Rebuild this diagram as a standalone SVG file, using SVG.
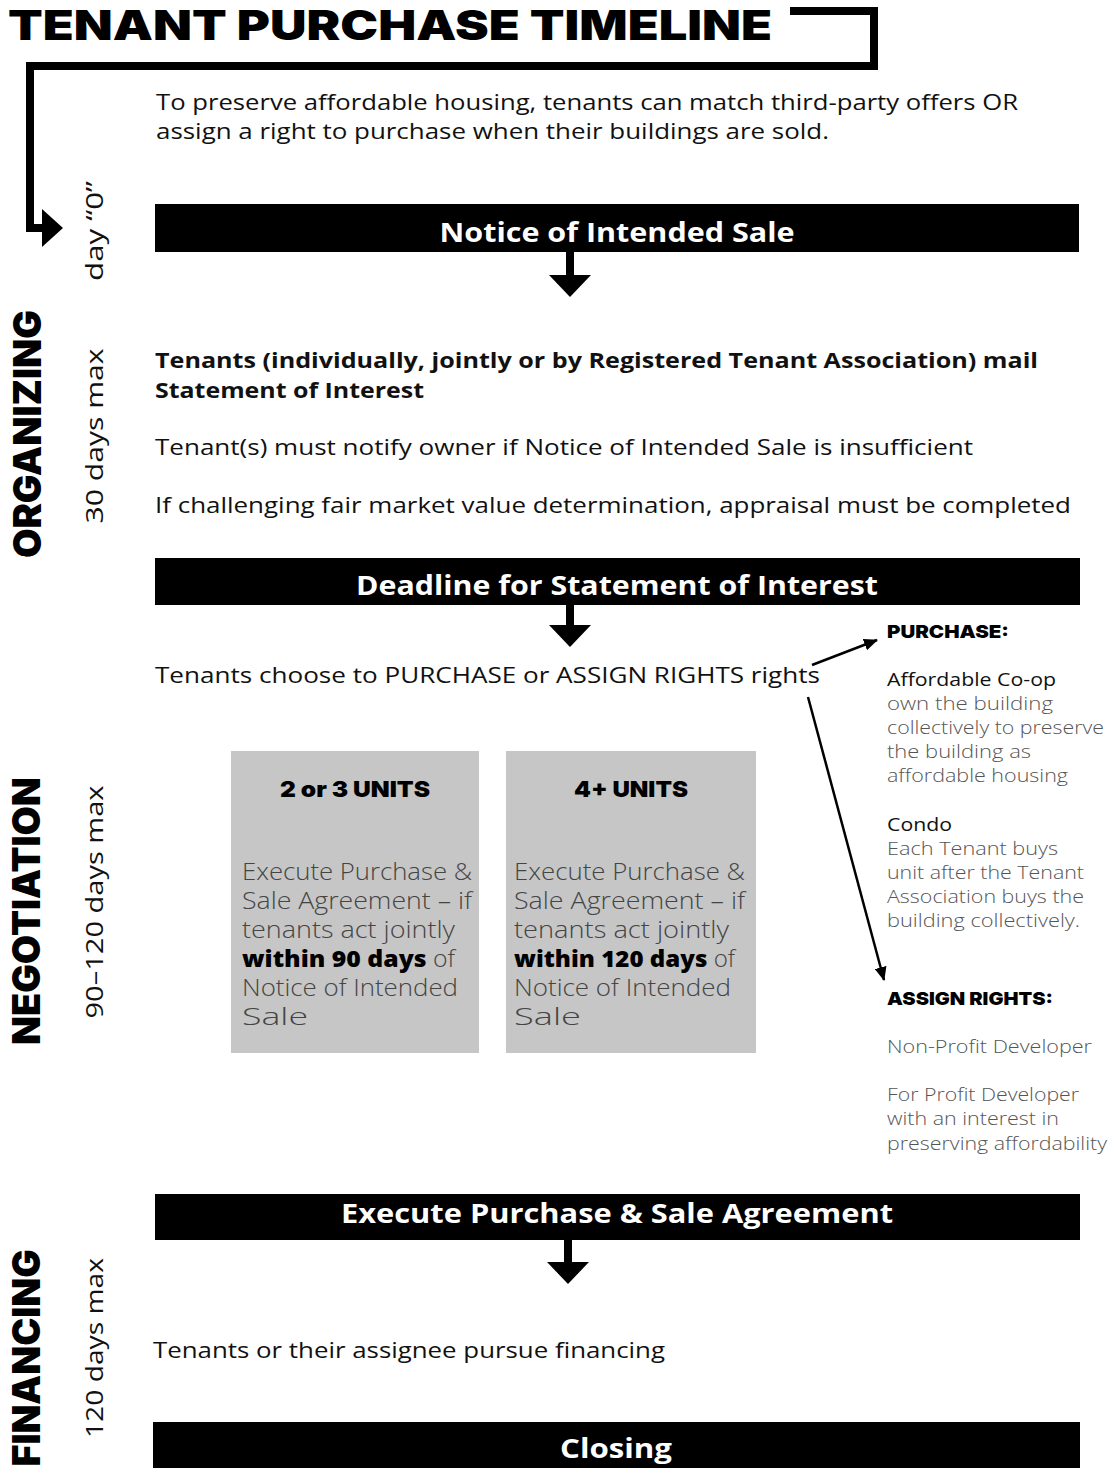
<svg xmlns="http://www.w3.org/2000/svg" width="1110" height="1471" viewBox="0 0 1110 1471">
<style>
.t{font-family:"Open Sans","Liberation Sans",sans-serif;fill:#111}
.h{font-family:Inter,"Liberation Sans",sans-serif;font-weight:900;fill:#000}
.bar{fill:#000}
.bt{font-family:"Open Sans","Liberation Sans",sans-serif;font-weight:700;fill:#fff;font-size:26px;text-anchor:middle}
.g{font-family:"Open Sans","Liberation Sans",sans-serif;font-weight:300;fill:#555;font-size:18px}
.gb{font-family:"Open Sans","Liberation Sans",sans-serif;font-weight:300;fill:#444;font-size:23px}
.box{fill:#c6c6c6}
</style>
<defs>
<marker id="ah" markerWidth="14" markerHeight="12" refX="13" refY="6" orient="auto" markerUnits="userSpaceOnUse"><path d="M0,0 L14,6 L0,12 z" fill="#000"/></marker>
</defs>
<rect width="1110" height="1471" fill="#fff"/>

<g id="title">
<text class="h" x="8" y="40" font-size="41" textLength="764" lengthAdjust="spacingAndGlyphs">TENANT PURCHASE TIMELINE</text>
</g>

<g id="connectors">
<path d="M790,11 H874 V66 H30 V228 H44" fill="none" stroke="#000" stroke-width="8"/>
<polygon points="42,209 63,228 42,247" fill="#000"/>
<rect x="566" y="252" width="8" height="24"/>
<polygon points="549,275 591,275 570,297"/>
<rect x="566" y="605" width="8" height="21"/>
<polygon points="549,625 591,625 570,647"/>
<rect x="564" y="1240" width="8" height="23"/>
<polygon points="547,1262 589,1262 568,1284"/>
<line x1="812" y1="665" x2="877" y2="640" stroke="#000" stroke-width="2.5" marker-end="url(#ah)"/>
<line x1="808" y1="697" x2="884" y2="980" stroke="#000" stroke-width="2.5" marker-end="url(#ah)"/>
</g>

<g id="intro">
<text class="t" x="156" y="110" font-size="22" textLength="862" lengthAdjust="spacingAndGlyphs">To preserve affordable housing, tenants can match third-party offers OR</text>
<text class="t" x="156" y="139" font-size="22" textLength="673" lengthAdjust="spacingAndGlyphs">assign a right to purchase when their buildings are sold.</text>
</g>

<g id="side-labels">
<text class="t" font-size="24" text-anchor="middle" transform="translate(103,231) rotate(-90)" textLength="100" lengthAdjust="spacingAndGlyphs">day “0”</text>
<text class="h" font-size="38" text-anchor="middle" transform="translate(41,434) rotate(-90)" textLength="248" lengthAdjust="spacingAndGlyphs">ORGANIZING</text>
<text class="t" font-size="24" text-anchor="middle" transform="translate(103,436) rotate(-90)" textLength="175" lengthAdjust="spacingAndGlyphs">30 days max</text>
<text class="h" font-size="38" text-anchor="middle" transform="translate(40,911) rotate(-90)" textLength="268" lengthAdjust="spacingAndGlyphs">NEGOTIATION</text>
<text class="t" font-size="24" text-anchor="middle" transform="translate(103,902) rotate(-90)" textLength="233" lengthAdjust="spacingAndGlyphs">90–120 days max</text>
<text class="h" font-size="38" text-anchor="middle" transform="translate(40,1358) rotate(-90)" textLength="217" lengthAdjust="spacingAndGlyphs">FINANCING</text>
<text class="t" font-size="24" text-anchor="middle" transform="translate(103,1348) rotate(-90)" textLength="180" lengthAdjust="spacingAndGlyphs">120 days max</text>
</g>

<g id="notice">
<rect class="bar" x="155" y="204" width="924" height="48"/>
<text class="bt" x="617" y="242" textLength="355" lengthAdjust="spacingAndGlyphs">Notice of Intended Sale</text>
</g>

<g id="organizing-steps">
<text class="t" x="155" y="368" font-size="22" font-weight="700" textLength="883" lengthAdjust="spacingAndGlyphs">Tenants (individually, jointly or by Registered Tenant Association) mail</text>
<text class="t" x="155" y="398" font-size="22" font-weight="700" textLength="269" lengthAdjust="spacingAndGlyphs">Statement of Interest</text>
<text class="t" x="155" y="455" font-size="22" textLength="818" lengthAdjust="spacingAndGlyphs">Tenant(s) must notify owner if Notice of Intended Sale  is insufficient</text>
<text class="t" x="155" y="513" font-size="22" textLength="916" lengthAdjust="spacingAndGlyphs">If challenging fair market value determination, appraisal must be completed</text>
</g>

<g id="deadline">
<rect class="bar" x="155" y="558" width="925" height="47"/>
<text class="bt" x="617" y="595" textLength="522" lengthAdjust="spacingAndGlyphs">Deadline for Statement of Interest</text>
</g>

<g id="choose">
<text class="t" x="155" y="683" font-size="22" textLength="665" lengthAdjust="spacingAndGlyphs">Tenants choose to PURCHASE or ASSIGN RIGHTS rights</text>
</g>

<g id="purchase">
<text class="h" x="887" y="638" font-size="18" textLength="122" lengthAdjust="spacingAndGlyphs">PURCHASE:</text>
<text class="t" x="887" y="686" font-size="19" textLength="169" lengthAdjust="spacingAndGlyphs">Affordable Co-op</text>
<text class="g" x="887" y="710" textLength="166" lengthAdjust="spacingAndGlyphs">own the building</text>
<text class="g" x="887" y="734" textLength="217" lengthAdjust="spacingAndGlyphs">collectively to preserve</text>
<text class="g" x="887" y="758" textLength="144" lengthAdjust="spacingAndGlyphs">the building as</text>
<text class="g" x="887" y="782" textLength="181" lengthAdjust="spacingAndGlyphs">affordable housing</text>
<text class="t" x="887" y="831" font-size="19" textLength="65" lengthAdjust="spacingAndGlyphs">Condo</text>
<text class="g" x="887" y="855" textLength="171" lengthAdjust="spacingAndGlyphs">Each Tenant buys</text>
<text class="g" x="887" y="879" textLength="197" lengthAdjust="spacingAndGlyphs">unit after the Tenant</text>
<text class="g" x="887" y="903" textLength="197" lengthAdjust="spacingAndGlyphs">Association buys the</text>
<text class="g" x="887" y="927" textLength="193" lengthAdjust="spacingAndGlyphs">building collectively.</text>
</g>

<g id="assign">
<text class="h" x="887" y="1005" font-size="18" textLength="166" lengthAdjust="spacingAndGlyphs">ASSIGN RIGHTS:</text>
<text class="g" x="887" y="1053" textLength="205" lengthAdjust="spacingAndGlyphs">Non-Profit Developer</text>
<text class="g" x="887" y="1101" textLength="192" lengthAdjust="spacingAndGlyphs">For Profit Developer</text>
<text class="g" x="887" y="1125" textLength="172" lengthAdjust="spacingAndGlyphs">with an interest in</text>
<text class="g" x="887" y="1150" textLength="220" lengthAdjust="spacingAndGlyphs">preserving affordability</text>
</g>

<g id="units-2-3">
<rect class="box" x="231" y="751" width="248" height="302"/>
<text class="h" x="355" y="797" font-size="22" text-anchor="middle" textLength="150" lengthAdjust="spacingAndGlyphs">2 or 3 UNITS</text>
<text class="gb" x="242" y="880" textLength="230" lengthAdjust="spacingAndGlyphs">Execute Purchase &amp;</text>
<text class="gb" x="242" y="909" textLength="230" lengthAdjust="spacingAndGlyphs">Sale Agreement – if</text>
<text class="gb" x="242" y="938" textLength="213" lengthAdjust="spacingAndGlyphs">tenants act jointly</text>
<text class="gb" x="242" y="967" textLength="213" lengthAdjust="spacingAndGlyphs"><tspan font-weight="800" fill="#000">within 90 days</tspan> of</text>
<text class="gb" x="242" y="996" textLength="216" lengthAdjust="spacingAndGlyphs">Notice of Intended</text>
<text class="gb" x="242" y="1025" textLength="66" lengthAdjust="spacingAndGlyphs">Sale</text>
</g>

<g id="units-4-plus">
<rect class="box" x="506" y="751" width="250" height="302"/>
<text class="h" x="631" y="797" font-size="22" text-anchor="middle" textLength="114" lengthAdjust="spacingAndGlyphs">4+ UNITS</text>
<text class="gb" x="514" y="880" textLength="231" lengthAdjust="spacingAndGlyphs">Execute Purchase &amp;</text>
<text class="gb" x="514" y="909" textLength="231" lengthAdjust="spacingAndGlyphs">Sale Agreement – if</text>
<text class="gb" x="514" y="938" textLength="215" lengthAdjust="spacingAndGlyphs">tenants act jointly</text>
<text class="gb" x="514" y="967" textLength="221" lengthAdjust="spacingAndGlyphs"><tspan font-weight="800" fill="#000">within 120 days</tspan> of</text>
<text class="gb" x="514" y="996" textLength="217" lengthAdjust="spacingAndGlyphs">Notice of Intended</text>
<text class="gb" x="514" y="1025" textLength="67" lengthAdjust="spacingAndGlyphs">Sale</text>
</g>

<g id="execute">
<rect class="bar" x="155" y="1194" width="925" height="46"/>
<text class="bt" x="617" y="1223" textLength="552" lengthAdjust="spacingAndGlyphs">Execute Purchase &amp; Sale Agreement</text>
</g>

<g id="financing">
<text class="t" x="153" y="1358" font-size="22" textLength="512" lengthAdjust="spacingAndGlyphs">Tenants or their assignee pursue financing</text>
</g>

<g id="closing">
<rect class="bar" x="153" y="1422" width="927" height="46"/>
<text class="bt" x="616" y="1458" textLength="112" lengthAdjust="spacingAndGlyphs">Closing</text>
</g>
</svg>
